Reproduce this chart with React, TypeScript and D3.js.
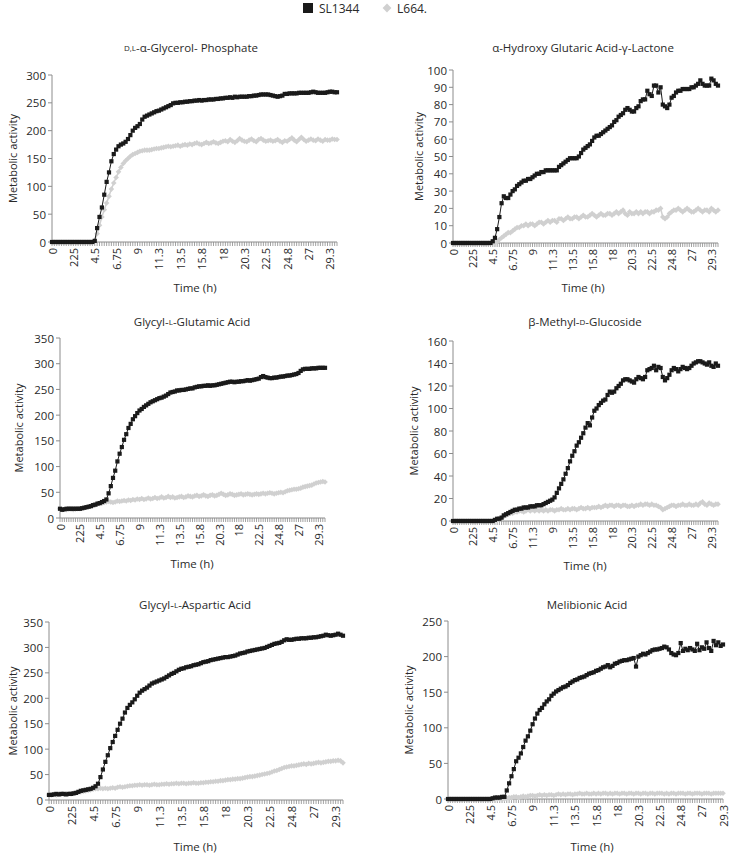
import React from "react";
import * as d3 from "d3";

const seriesNames = ["SL1344", "L664."];

const stdLabels = ["0", "225", "4.5", "6.75", "9", "11.3", "13.5", "15.8", "18", "20.3", "22.5", "24.8", "27", "29.3"];
const glutamicLabels = ["0", "225", "4.5", "6.75", "9", "11.3", "13.5", "15.8", "20.3", "18", "22.5", "24.8", "27", "29.3"];
const methylLabels = ["0", "225", "4.5", "6.75", "11.3", "9", "13.5", "15.8", "18", "20.3", "22.5", "24.8", "27", "29.3"];

const glycerolSL = [
  0, 0, 0, 0, 0, 0, 0, 0, 0, 0,
  0, 0, 0, 0, 0, 0, 0, 0, 2, 25,
  45, 62, 85, 108, 125, 145, 158, 166, 172, 175,
  177, 180, 185, 192, 200, 205, 208, 212, 220, 225,
  227, 229, 231, 233, 235, 236, 238, 240, 242, 244,
  246, 249, 250, 250, 251, 251, 252, 252, 253, 253,
  254, 254, 255, 254, 255, 255, 256, 256, 256, 257,
  257, 258, 258, 259, 259, 260, 259, 261, 260, 261,
  261, 261, 261, 262, 262, 263, 263, 264, 265, 265,
  265, 265, 264, 263, 262, 261, 262, 263, 266, 266,
  267, 267, 267, 267, 268, 268, 268, 268, 268, 269,
  270, 269, 268, 268, 268, 268, 269, 270, 270, 269,
  269,
];
const glycerolL = [
  0, 0, 0, 0, 0, 0, 0, 0, 0, 0,
  0, 0, 0, 0, 0, 0, 0, 0, 3, 15,
  30, 45, 58, 70, 82, 95, 106, 116, 126, 134,
  141, 146, 150, 154, 157, 159, 161, 163, 164, 165,
  165, 165, 166, 167, 168, 168, 169, 170, 171, 172,
  171, 172, 173, 174, 172, 174, 175, 174, 176, 175,
  177, 178, 176, 175, 177, 179, 177, 178, 180, 178,
  177, 179, 181, 182, 180, 184, 181, 179, 182, 186,
  183, 181, 180, 183, 185, 182, 180, 184, 186, 183,
  181, 182, 183, 181, 182, 184, 181, 179, 182, 181,
  184, 187, 183, 180, 184, 188, 184, 181, 183, 185,
  183, 182, 185, 183, 181, 184, 183, 183, 185, 184,
  184,
];

const hydroxySL = [
  0, 0, 0, 0, 0, 0, 0, 0, 0, 0,
  0, 0, 0, 0, 0, 0, 0, 0, 1, 3,
  8, 15, 23, 27, 26, 26, 28, 30, 31, 33,
  34, 35, 36, 36, 37, 37, 38, 39, 40, 40,
  41, 41, 42, 42, 42, 42, 42, 42, 44, 45,
  46, 47, 48, 49, 49, 49, 49, 50, 52, 54,
  55, 56, 57, 59, 61, 62, 62, 63, 64, 65,
  66, 67, 68, 70, 71, 73, 74, 75, 77, 78,
  77, 76, 76, 78, 79, 82, 83, 83, 88, 86,
  85, 91, 91, 87, 90, 80, 79, 78, 80, 84,
  85, 87, 88, 88, 89, 89, 89, 89, 90, 90,
  91, 92, 94, 92, 91, 91, 91, 95, 94, 92,
  91,
];
const hydroxyL = [
  0, 0, 0, 0, 0, 0, 0, 0, 0, 0,
  0, 0, 0, 0, 0, 0, 0, 0, 0, 0,
  1, 2, 3, 4, 5, 6, 6, 7, 8, 9,
  9, 10, 10, 11, 10, 11, 11, 10, 11, 12,
  12, 11, 12, 13, 12, 13, 13, 12, 14, 14,
  13, 14, 15, 14, 14, 15, 15, 14, 15, 16,
  15, 15, 16, 17, 16, 15, 16, 17, 16, 16,
  17, 17, 16, 17, 18, 17, 18, 19, 17, 16,
  18, 17, 17, 18, 17, 18, 17, 18, 18, 17,
  18, 18, 19, 19, 20, 15, 14, 15, 17, 18,
  19, 19, 20, 19, 18, 19, 20, 19, 18, 18,
  19, 20, 19, 18, 19, 19, 18, 20, 19, 18,
  19,
];

const glutamicSL = [
  18, 16, 17, 18, 18, 18, 18, 18, 18, 18,
  19, 20, 21, 22, 23, 25, 26, 28, 29, 31,
  33, 36, 48, 62, 78, 92, 110, 125, 138, 152,
  163, 175, 183, 192, 198, 204, 209, 212, 216, 219,
  222, 225, 227, 229, 231, 233, 234, 236, 238, 241,
  244, 245, 246, 248, 248, 249, 249, 250, 251, 252,
  252, 254, 255, 256, 256, 257, 257, 258, 257, 258,
  258, 259, 260, 261, 262, 263, 264, 265, 265, 264,
  265, 265, 266, 266, 267, 268, 267, 268, 269, 270,
  271, 274, 276, 274, 273, 272, 272, 273, 273, 274,
  275, 275, 276, 277, 277, 278, 279, 280, 282, 286,
  289, 290, 290, 290, 291, 291, 291, 292, 292, 292,
  292,
];
const glutamicL = [
  18, 16, 17, 16, 17, 17, 16, 17, 18, 18,
  19, 20, 21, 22, 24, 25, 26, 27, 28, 29,
  30, 31, 32, 31, 30, 31, 33, 32, 33, 34,
  33, 35, 34, 36, 35, 37, 36, 38, 36, 37,
  39, 37, 38, 40, 38, 39, 41, 39, 40, 42,
  40, 41, 39, 40, 41, 42, 40, 41, 43, 42,
  41, 43, 44, 42, 43, 45, 43, 42, 44, 45,
  43, 44, 46, 48, 46, 44, 45, 47, 46, 44,
  45, 46, 47, 45, 46, 47, 46, 45, 46, 47,
  46, 47, 48, 47, 48, 49, 48, 47, 48, 49,
  50, 49, 51, 53, 54, 55, 56, 56, 57, 58,
  60, 61, 62, 63, 64, 66, 68, 69, 70, 71,
  70,
];

const methylSL = [
  0, 0, 0, 0, 0, 0, 0, 0, 0, 0,
  0, 0, 0, 0, 0, 0, 0, 0, 0, 1,
  2, 2, 3, 5, 6, 7, 8, 9, 10, 10,
  11, 11, 12, 12, 12, 13, 13, 13, 14, 14,
  14, 15, 16, 17, 18, 19, 21, 25, 29, 33,
  37, 42, 47, 53, 58, 62, 67, 70, 74, 78,
  83, 87, 85, 92, 98, 100, 103, 105, 107, 108,
  112, 115, 114, 115, 118, 120, 122, 125, 126, 126,
  125, 124, 123, 126, 128, 127, 126, 128, 134, 135,
  136, 138, 134, 137, 136, 128, 125, 127, 130, 134,
  136, 135, 133, 135, 137, 136, 135, 136, 138, 140,
  141, 142, 142, 141, 140, 139, 141, 138, 137, 140,
  138,
];
const methylL = [
  0, 0, 0, 0, 0, 0, 0, 0, 0, 0,
  0, 0, 0, 0, 0, 0, 0, 0, 0, 0,
  1, 2, 3, 4, 5, 6, 7, 7, 8, 8,
  9, 9, 8, 9, 10, 9, 10, 9, 10, 9,
  10, 9, 10, 9, 10, 10, 9, 10, 10, 11,
  10, 10, 11, 10, 11, 11, 10, 11, 12, 11,
  11, 12, 11, 12, 12, 12, 13, 12, 13, 14,
  13, 14, 14, 13, 14, 14, 13, 14, 14, 13,
  13, 14, 13, 14, 14, 15, 14, 15, 15, 14,
  15, 14, 14, 13, 12, 10, 11, 12, 13, 14,
  14, 13, 14, 14, 15, 14, 14, 15, 14, 14,
  15, 14, 16, 17, 15, 14, 16, 15, 14, 15,
  15,
];

const asparticSL = [
  10, 10, 11, 12, 11, 12, 12, 11, 12, 12,
  13, 14, 16, 18, 19, 20, 21, 22, 24, 27,
  32, 45, 60, 75, 88, 102, 114, 126, 138, 150,
  160, 172, 181, 187, 192, 198, 205, 211, 215, 218,
  221, 225, 229, 231, 233, 235, 237, 239, 242, 245,
  248, 250, 253, 256, 258, 259, 261, 262, 263, 265,
  266, 267, 269, 271, 272, 273, 275, 276, 277, 278,
  279, 280, 281, 281, 282, 283, 284, 286, 288, 289,
  290, 292, 293, 294, 295, 296, 297, 298, 299, 301,
  303, 305, 307, 308, 309, 311, 314, 316, 315, 315,
  316, 317, 317, 318, 318, 318, 319, 319, 320, 320,
  321, 322, 323, 325, 324, 323, 324, 325, 327, 325,
  323,
];
const asparticL = [
  10, 10, 11, 10, 11, 11, 11, 12, 12, 12,
  13, 14, 15, 16, 17, 18, 19, 20, 21, 22,
  22, 23, 22, 23, 22, 23, 24, 23, 25, 26,
  25, 26, 27, 28, 28, 29, 29, 30, 29, 30,
  30, 29, 30, 31, 30, 30, 31, 31, 32, 31,
  32, 32, 33, 32, 33, 33, 32, 33, 33, 34,
  33, 33, 34, 34, 35, 35, 36, 36, 37, 37,
  38, 38, 39, 40, 40, 41, 41, 42, 42, 43,
  44, 45, 46, 46, 47, 48, 49, 50, 51, 52,
  53, 55, 57, 58, 60, 62, 64, 65, 66, 67,
  67, 68, 69, 70, 71, 70, 72, 71, 72, 73,
  74, 73, 74, 75, 76, 76, 77, 77, 78, 77,
  73,
];

const melibionicSL = [
  0, 0, 0, 0, 0, 0, 0, 0, 0, 0,
  0, 0, 0, 0, 0, 0, 0, 0, 0, 1,
  2, 2, 2, 3, 3, 12, 22, 32, 42, 53,
  58, 64, 73, 82, 88, 96, 105, 113, 120, 125,
  128, 133, 137, 140, 145, 148, 151, 153, 155, 157,
  158, 160, 163, 165, 167, 168, 170, 171, 172, 174,
  176, 177, 178, 180, 181, 183, 185, 186, 188, 185,
  187, 190, 191, 193, 194, 195, 195, 196, 197, 198,
  186, 200, 202, 204, 203, 205, 207, 209, 210, 210,
  211, 212, 214, 213, 210, 205, 203, 202, 205, 219,
  208, 211, 209, 212, 210, 208, 218, 209, 213, 211,
  220, 212, 208, 222, 216, 220, 215, 217,
];
const melibionicL = [
  0, 0, 0, 0, 0, 0, 0, 0, 0, 0,
  0, 0, 0, 0, 0, 0, 0, 0, 0, 0,
  0, 0, 0, 0, 0, 1, 2, 2, 3, 3,
  2, 3, 4, 3, 4, 5, 5, 4, 5, 6,
  5, 6, 5, 6, 6, 5, 6, 7, 6, 7,
  6, 7, 7, 6, 7, 7, 8, 7, 7, 8,
  7, 7, 8, 7, 8, 7, 8, 8, 7, 8,
  7, 8, 8, 7, 8, 8, 7, 8, 8, 7,
  8, 8, 7, 8, 8, 7, 8, 8, 7, 8,
  8, 8, 7, 8, 7, 8, 8, 7, 8, 8,
  8, 7, 8, 8, 7, 8, 8, 8, 7, 8,
  8, 8, 7, 8, 8, 8, 8, 8,
];

type TitlePart = { t: string; small?: boolean };

type PanelCfg = {
  title: TitlePart[];
  sl: number[];
  l: number[];
  yMax: number;
  yStep: number;
  labels: string[];
  box: { x0: number; x1: number; y0: number; y1: number };
  titlePos: [number, number];
  yLabelX: number;
  xLabelPos: [number, number];
};

const panels: PanelCfg[] = [
  {
    title: [{ t: "D,L", small: true }, { t: "-α-Glycerol- Phosphate" }],
    sl: glycerolSL, l: glycerolL, yMax: 300, yStep: 50, labels: stdLabels,
    box: { x0: 52, x1: 337, y0: 75, y1: 242 },
    titlePos: [191, 47], yLabelX: 12, xLabelPos: [195, 287],
  },
  {
    title: [{ t: "α-Hydroxy Glutaric Acid-γ-Lactone" }],
    sl: hydroxySL, l: hydroxyL, yMax: 100, yStep: 10, labels: stdLabels,
    box: { x0: 453, x1: 718, y0: 70, y1: 243 },
    titlePos: [583, 47], yLabelX: 418, xLabelPos: [583, 287],
  },
  {
    title: [{ t: "Glycyl-" }, { t: "L", small: true }, { t: "-Glutamic Acid" }],
    sl: glutamicSL, l: glutamicL, yMax: 350, yStep: 50, labels: glutamicLabels,
    box: { x0: 60, x1: 325, y0: 338, y1: 518 },
    titlePos: [192, 321], yLabelX: 18, xLabelPos: [192, 563],
  },
  {
    title: [{ t: "β-Methyl-" }, { t: "D", small: true }, { t: "-Glucoside" }],
    sl: methylSL, l: methylL, yMax: 160, yStep: 20, labels: methylLabels,
    box: { x0: 453, x1: 718, y0: 341, y1: 521 },
    titlePos: [585, 321], yLabelX: 413, xLabelPos: [585, 565],
  },
  {
    title: [{ t: "Glycyl-" }, { t: "L", small: true }, { t: "-Aspartic Acid" }],
    sl: asparticSL, l: asparticL, yMax: 350, yStep: 50, labels: stdLabels,
    box: { x0: 49, x1: 343, y0: 622, y1: 800 },
    titlePos: [195, 604], yLabelX: 12, xLabelPos: [195, 846],
  },
  {
    title: [{ t: "Melibionic Acid" }],
    sl: melibionicSL, l: melibionicL, yMax: 250, yStep: 50, labels: stdLabels,
    box: { x0: 448, x1: 723, y0: 621, y1: 799 },
    titlePos: [587, 604], yLabelX: 408, xLabelPos: [592, 846],
  },
];

const FONT = "'Open Sans', 'Noto Sans', sans-serif";
const BLACK = "#1a1a1a";
const GRAY = "#d0d0d0";
const AXIS = "#8c8c8c";
const TEXT = "#2a2a2a";

function Panel({ cfg }: { cfg: PanelCfg }) {
  const { x0, x1, y0, y1 } = cfg.box;
  const n = cfg.sl.length;
  const idx = d3.range(n);
  const x = d3.scalePoint<number>().domain(idx).range([x0, x1]);
  const y = d3.scaleLinear().domain([0, cfg.yMax]).range([y1, y0]);
  const yTicks = d3.range(0, cfg.yMax + 0.001, cfg.yStep);
  const line = d3
    .line<number>()
    .x((_, i) => x(i) as number)
    .y((d) => y(d));
  const diamond = d3.symbol().type(d3.symbolDiamond2).size(20)();
  const labelIdx = cfg.labels.map((_, k) => k * 9);

  return (
    <g>
      <text
        x={cfg.titlePos[0]}
        y={cfg.titlePos[1]}
        textAnchor="middle"
        dominantBaseline="central"
        fontSize={11.5}
        fill={TEXT}
        fontFamily={FONT}
      >
        {cfg.title.map((p, i) => (
          <tspan key={i} fontSize={p.small ? 8 : 11.5}>
            {p.t}
          </tspan>
        ))}
      </text>

      {/* y axis */}
      <line x1={x0} x2={x0} y1={y0} y2={y1} stroke={AXIS} strokeWidth={1} />
      {yTicks.map((t) => (
        <g key={t}>
          <line x1={x0 - 4} x2={x0} y1={y(t)} y2={y(t)} stroke={AXIS} />
          <text
            x={x0 - 6}
            y={y(t)}
            textAnchor="end"
            dominantBaseline="central"
            fontSize={11.5}
            fill={TEXT}
            fontFamily={FONT}
          >
            {t}
          </text>
        </g>
      ))}
      <text
        transform={`translate(${cfg.yLabelX},${(y0 + y1) / 2}) rotate(-90)`}
        textAnchor="middle"
        dominantBaseline="central"
        fontSize={11}
        fill={TEXT}
        fontFamily={FONT}
      >
        Metabolic activity
      </text>

      {/* x axis */}
      <line x1={x0} x2={x1} y1={y1} y2={y1} stroke={AXIS} strokeWidth={1} />
      {idx.map((i) => (
        <line
          key={i}
          x1={x(i)}
          x2={x(i)}
          y1={y1}
          y2={y1 + 4}
          stroke={AXIS}
          strokeWidth={0.8}
        />
      ))}
      {cfg.labels.map((lab, k) => {
        const xi = x(labelIdx[k]) as number;
        return (
          <text
            key={k}
            transform={`translate(${xi},${y1 + 6}) rotate(-90)`}
            textAnchor="end"
            dominantBaseline="central"
            fontSize={11}
            fill={TEXT}
            fontFamily={FONT}
          >
            {lab}
          </text>
        );
      })}
      <text
        x={cfg.xLabelPos[0]}
        y={cfg.xLabelPos[1]}
        textAnchor="middle"
        dominantBaseline="central"
        fontSize={11.5}
        fill={TEXT}
        fontFamily={FONT}
      >
        Time (h)
      </text>

      {/* L664 series */}
      <path d={line(cfg.l) || ""} fill="none" stroke={GRAY} strokeWidth={1.5} />
      {cfg.l.map((v, i) => (
        <path
          key={"l" + i}
          d={diamond || ""}
          transform={`translate(${x(i)},${y(v)})`}
          fill={GRAY}
        />
      ))}

      {/* SL1344 series */}
      <path d={line(cfg.sl) || ""} fill="none" stroke={BLACK} strokeWidth={1} />
      {cfg.sl.map((v, i) => (
        <rect
          key={"s" + i}
          x={(x(i) as number) - 2.1}
          y={y(v) - 2.1}
          width={4.2}
          height={4.2}
          fill={BLACK}
        />
      ))}
    </g>
  );
}

export default function App() {
  const diamond = d3.symbol().type(d3.symbolDiamond2).size(50)();
  return (
    <svg
      width={733}
      height={853}
      style={{ position: "absolute", left: 0, top: 0, background: "#fff" }}
    >
      <rect x={0} y={0} width={733} height={853} fill="#fff" />
      {/* legend */}
      <rect x={303} y={3} width={10} height={10} fill={BLACK} />
      <text x={319} y={8} dominantBaseline="central" fontSize={12} fill={TEXT} fontFamily={FONT}>
        {seriesNames[0]}
      </text>
      <path d={diamond || ""} transform="translate(387,8)" fill={GRAY} />
      <text x={397} y={8} dominantBaseline="central" fontSize={12} fill={TEXT} fontFamily={FONT}>
        {seriesNames[1]}
      </text>
      {panels.map((p, i) => (
        <Panel key={i} cfg={p} />
      ))}
    </svg>
  );
}
